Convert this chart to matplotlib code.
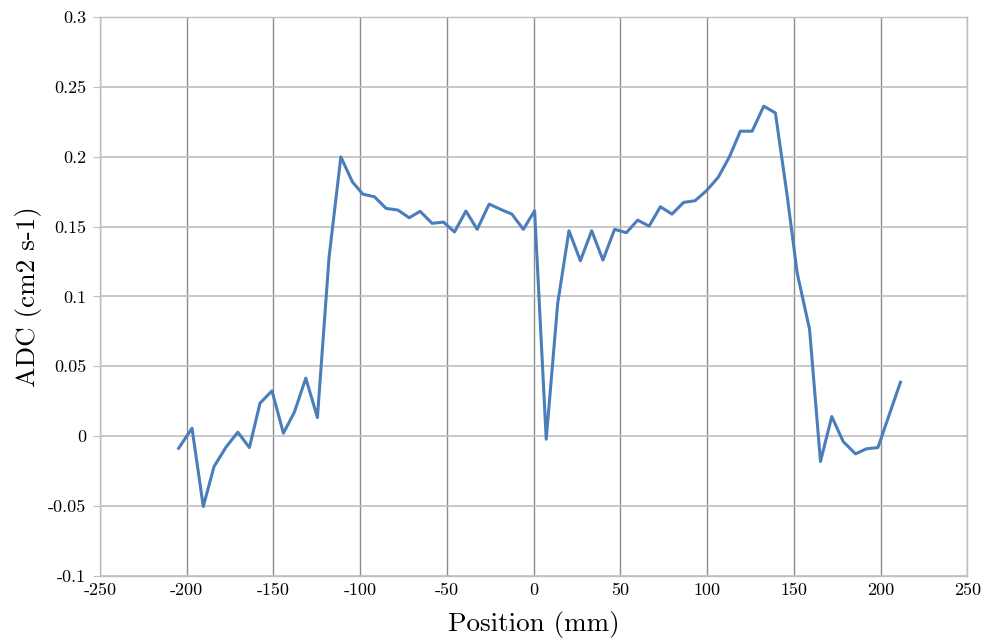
import matplotlib.pyplot as plt

# ADC profile along position
position = [-204.6, -196.9, -190.4, -184.2, -177.3, -170.5, -163.8, -157.7, -150.8, -144.2,
            -137.9, -131.3, -124.6, -117.9, -111.1, -104.4, -98.4, -91.7, -85.0, -78.2,
            -71.7, -65.4, -58.5, -51.9, -45.6, -39.0, -32.5, -25.6, -19.0, -12.5,
            -5.9, 0.6, 7.3, 13.9, 20.4, 27.0, 33.5, 40.0, 46.7, 53.5,
            60.0, 66.6, 73.1, 79.8, 86.5, 93.1, 99.6, 106.4, 112.9, 119.2,
            126.0, 132.7, 139.4, 146.0, 152.0, 159.1, 165.4, 171.9, 178.5, 185.6,
            191.9, 198.5, 205.0, 211.5]
adc = [-0.0087, 0.0057, -0.0504, -0.0218, -0.0079, 0.0028, -0.0082, 0.0236, 0.0324, 0.0021,
       0.0171, 0.0415, 0.0133, 0.128, 0.200, 0.182, 0.1733, 0.1714, 0.1631, 0.1619,
       0.1564, 0.1610, 0.1524, 0.1533, 0.1462, 0.1612, 0.1481, 0.1662, 0.1624, 0.1590,
       0.1481, 0.1614, -0.0022, 0.095, 0.1471, 0.1256, 0.1471, 0.1261, 0.1481, 0.1457,
       0.1547, 0.1504, 0.1643, 0.1590, 0.1674, 0.1686, 0.1757, 0.1853, 0.2000, 0.2184,
       0.2184, 0.2363, 0.2315, 0.174, 0.1166, 0.0765, -0.0182, 0.0140, -0.0039, -0.0127,
       -0.0091, -0.0082, 0.0152, 0.0386]

xticks = [-250, -200, -150, -100, -50, 0, 50, 100, 150, 200, 250]
yticks = [-0.1, -0.05, 0, 0.05, 0.1, 0.15, 0.2, 0.25, 0.3]
ytick_labels = ['-0.1', '-0.05', '0', '0.05', '0.1', '0.15', '0.2', '0.25', '0.3']

plt.rcParams['font.family'] = ['cmr10', 'DejaVu Serif']

fig, ax = plt.subplots(figsize=(9.89, 6.39), dpi=100)
fig.subplots_adjust(left=0.101, right=0.978, top=0.973, bottom=0.099)

ax.plot(position, adc, color='#4a7ebb', linewidth=2.2, zorder=3)

ax.set_xlim(-250, 250)
ax.set_ylim(-0.1, 0.3)
ax.set_xticks(xticks)
ax.set_xticklabels([str(t) for t in xticks], fontsize=13)
ax.set_yticks(yticks)
ax.set_yticklabels(ytick_labels, fontsize=13)

ax.grid(axis='x', color='#8c8c8c', linewidth=1.0)
ax.grid(axis='y', color='#bfbfbf', linewidth=1.2)
ax.set_axisbelow(True)
for s in ax.spines.values():
    s.set_color('#bfbfbf')
    s.set_linewidth(1.0)
ax.tick_params(axis='x', length=0, pad=5)
ax.tick_params(axis='y', length=5, color='#bfbfbf', pad=5)

ax.set_xlabel('Position (mm)', fontsize=19.5, labelpad=9)
ax.set_ylabel('ADC (cm2 s-1)', fontsize=19.5, labelpad=4)

plt.savefig('out.png', dpi=100)
